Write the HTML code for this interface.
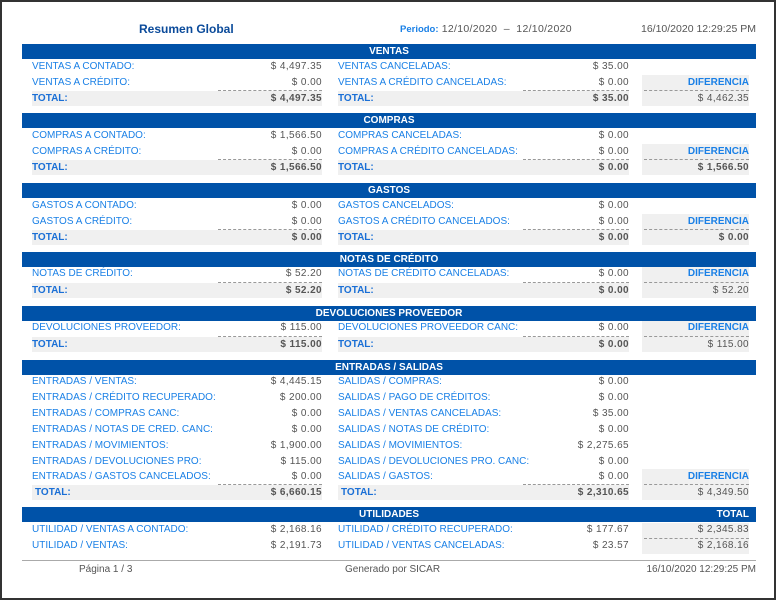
<!DOCTYPE html>
<html><head><meta charset="utf-8"><style>
body{margin:0;width:776px;height:600px;position:relative;background:#fff;font-family:"Liberation Sans",sans-serif;overflow:hidden}
.frame{position:absolute;left:0;top:0;width:772px;height:596px;border:2px solid #333}
div.a{position:absolute;font-size:10px;line-height:14px;height:14px;white-space:nowrap}
.bar{position:absolute;left:22px;width:734px;height:15px;background:#0052a8;color:#fff;font-size:10px;font-weight:bold;line-height:15px;text-align:center}
.l{left:32px;color:#1a80e6}
.r{left:338px;color:#1a80e6}
.lv{right:454px;color:#555;text-align:right;letter-spacing:0.4px}
.rv{right:147px;color:#555;text-align:right;letter-spacing:0.4px}
.dv{right:27px;color:#555;text-align:right;letter-spacing:0.4px}
.b{font-weight:bold}
.lb{color:#1a6fd6}
.g{position:absolute;background:#f0f0f0}
.d{position:absolute;border-top:1px dashed #999;height:0}
</style></head><body>
<div class="frame"></div>
<div class="a" style="left:139px;top:22px;font-size:12px;font-weight:bold;color:#0a4a9a">Resumen Global</div>
<div class="a" style="left:400px;top:22px;color:#555;font-size:10.5px;letter-spacing:0.3px"><span style="color:#1a80e6;font-weight:bold;font-size:9.5px;letter-spacing:0">Periodo:</span> 12/10/2020 &nbsp;–&nbsp; 12/10/2020</div>
<div class="a" style="right:20px;top:22px;color:#555;font-size:10.5px">16/10/2020 12:29:25 PM</div>

<!-- VENTAS -->
<div class="bar" style="top:44px">VENTAS</div>
<div class="g" style="left:32px;top:91px;width:290px;height:15px"></div>
<div class="g" style="left:338px;top:91px;width:291px;height:15px"></div>
<div class="g" style="left:642px;top:75px;width:107px;height:31px"></div>
<div class="d" style="left:218px;top:90px;width:104px"></div>
<div class="d" style="left:523px;top:90px;width:106px"></div>
<div class="d" style="left:644px;top:90px;width:105px"></div>
<div class="a l" style="top:60px">VENTAS A CONTADO:</div><div class="a lv" style="top:60px">$ 4,497.35</div>
<div class="a r" style="top:60px">VENTAS CANCELADAS:</div><div class="a rv" style="top:60px">$ 35.00</div>
<div class="a l" style="top:76px">VENTAS A CRÉDITO:</div><div class="a lv" style="top:76px">$ 0.00</div>
<div class="a r" style="top:76px">VENTAS A CRÉDITO CANCELADAS:</div><div class="a rv" style="top:76px">$ 0.00</div>
<div class="a dv b lb" style="top:76px;color:#1a80e6;letter-spacing:0">DIFERENCIA</div>
<div class="a l b lb" style="top:92px">TOTAL:</div><div class="a lv b" style="top:92px">$ 4,497.35</div>
<div class="a r b lb" style="top:92px">TOTAL:</div><div class="a rv b" style="top:92px">$ 35.00</div>
<div class="a dv" style="top:92px">$ 4,462.35</div>

<!-- COMPRAS -->
<div class="bar" style="top:113px">COMPRAS</div>
<div class="g" style="left:32px;top:160px;width:290px;height:15px"></div>
<div class="g" style="left:338px;top:160px;width:291px;height:15px"></div>
<div class="g" style="left:642px;top:144px;width:107px;height:31px"></div>
<div class="d" style="left:218px;top:159px;width:104px"></div>
<div class="d" style="left:523px;top:159px;width:106px"></div>
<div class="d" style="left:644px;top:159px;width:105px"></div>
<div class="a l" style="top:129px">COMPRAS A CONTADO:</div><div class="a lv" style="top:129px">$ 1,566.50</div>
<div class="a r" style="top:129px">COMPRAS CANCELADAS:</div><div class="a rv" style="top:129px">$ 0.00</div>
<div class="a l" style="top:145px">COMPRAS A CRÉDITO:</div><div class="a lv" style="top:145px">$ 0.00</div>
<div class="a r" style="top:145px">COMPRAS A CRÉDITO CANCELADAS:</div><div class="a rv" style="top:145px">$ 0.00</div>
<div class="a dv b lb" style="top:145px;color:#1a80e6;letter-spacing:0">DIFERENCIA</div>
<div class="a l b lb" style="top:161px">TOTAL:</div><div class="a lv b" style="top:161px">$ 1,566.50</div>
<div class="a r b lb" style="top:161px">TOTAL:</div><div class="a rv b" style="top:161px">$ 0.00</div>
<div class="a dv b" style="top:161px">$ 1,566.50</div>

<!-- GASTOS -->
<div class="bar" style="top:183px">GASTOS</div>
<div class="g" style="left:32px;top:230px;width:290px;height:15px"></div>
<div class="g" style="left:338px;top:230px;width:291px;height:15px"></div>
<div class="g" style="left:642px;top:214px;width:107px;height:31px"></div>
<div class="d" style="left:218px;top:229px;width:104px"></div>
<div class="d" style="left:523px;top:229px;width:106px"></div>
<div class="d" style="left:644px;top:229px;width:105px"></div>
<div class="a l" style="top:199px">GASTOS A CONTADO:</div><div class="a lv" style="top:199px">$ 0.00</div>
<div class="a r" style="top:199px">GASTOS CANCELADOS:</div><div class="a rv" style="top:199px">$ 0.00</div>
<div class="a l" style="top:215px">GASTOS A CRÉDITO:</div><div class="a lv" style="top:215px">$ 0.00</div>
<div class="a r" style="top:215px">GASTOS A CRÉDITO CANCELADOS:</div><div class="a rv" style="top:215px">$ 0.00</div>
<div class="a dv b lb" style="top:215px;color:#1a80e6;letter-spacing:0">DIFERENCIA</div>
<div class="a l b lb" style="top:231px">TOTAL:</div><div class="a lv b" style="top:231px">$ 0.00</div>
<div class="a r b lb" style="top:231px">TOTAL:</div><div class="a rv b" style="top:231px">$ 0.00</div>
<div class="a dv b" style="top:231px">$ 0.00</div>

<!-- NOTAS -->
<div class="bar" style="top:252px">NOTAS DE CRÉDITO</div>
<div class="g" style="left:32px;top:283px;width:290px;height:15px"></div>
<div class="g" style="left:338px;top:283px;width:291px;height:15px"></div>
<div class="g" style="left:642px;top:267px;width:107px;height:31px"></div>
<div class="d" style="left:218px;top:282px;width:104px"></div>
<div class="d" style="left:523px;top:282px;width:106px"></div>
<div class="d" style="left:644px;top:282px;width:105px"></div>
<div class="a l" style="top:267px">NOTAS DE CRÉDITO:</div><div class="a lv" style="top:267px">$ 52.20</div>
<div class="a r" style="top:267px">NOTAS DE CRÉDITO CANCELADAS:</div><div class="a rv" style="top:267px">$ 0.00</div>
<div class="a dv b lb" style="top:267px;color:#1a80e6;letter-spacing:0">DIFERENCIA</div>
<div class="a l b lb" style="top:284px">TOTAL:</div><div class="a lv b" style="top:284px">$ 52.20</div>
<div class="a r b lb" style="top:284px">TOTAL:</div><div class="a rv b" style="top:284px">$ 0.00</div>
<div class="a dv" style="top:284px">$ 52.20</div>

<!-- DEVOLUCIONES -->
<div class="bar" style="top:306px">DEVOLUCIONES PROVEEDOR</div>
<div class="g" style="left:32px;top:337px;width:290px;height:15px"></div>
<div class="g" style="left:338px;top:337px;width:291px;height:15px"></div>
<div class="g" style="left:642px;top:321px;width:107px;height:31px"></div>
<div class="d" style="left:218px;top:336px;width:104px"></div>
<div class="d" style="left:523px;top:336px;width:106px"></div>
<div class="d" style="left:644px;top:336px;width:105px"></div>
<div class="a l" style="top:321px">DEVOLUCIONES PROVEEDOR:</div><div class="a lv" style="top:321px">$ 115.00</div>
<div class="a r" style="top:321px">DEVOLUCIONES PROVEEDOR CANC:</div><div class="a rv" style="top:321px">$ 0.00</div>
<div class="a dv b lb" style="top:321px;color:#1a80e6;letter-spacing:0">DIFERENCIA</div>
<div class="a l b lb" style="top:338px">TOTAL:</div><div class="a lv b" style="top:338px">$ 115.00</div>
<div class="a r b lb" style="top:338px">TOTAL:</div><div class="a rv b" style="top:338px">$ 0.00</div>
<div class="a dv" style="top:338px">$ 115.00</div>

<!-- ENTRADAS -->
<div class="bar" style="top:360px">ENTRADAS / SALIDAS</div>
<div class="g" style="left:32px;top:485px;width:290px;height:15px"></div>
<div class="g" style="left:338px;top:485px;width:291px;height:15px"></div>
<div class="g" style="left:642px;top:469px;width:107px;height:31px"></div>
<div class="d" style="left:218px;top:484px;width:104px"></div>
<div class="d" style="left:523px;top:484px;width:106px"></div>
<div class="d" style="left:644px;top:484px;width:105px"></div>
<div class="a l" style="top:375px">ENTRADAS / VENTAS:</div><div class="a lv" style="top:375px">$ 4,445.15</div>
<div class="a r" style="top:375px">SALIDAS / COMPRAS:</div><div class="a rv" style="top:375px">$ 0.00</div>
<div class="a l" style="top:391px">ENTRADAS / CRÉDITO RECUPERADO:</div><div class="a lv" style="top:391px">$ 200.00</div>
<div class="a r" style="top:391px">SALIDAS / PAGO DE CRÉDITOS:</div><div class="a rv" style="top:391px">$ 0.00</div>
<div class="a l" style="top:407px">ENTRADAS / COMPRAS CANC:</div><div class="a lv" style="top:407px">$ 0.00</div>
<div class="a r" style="top:407px">SALIDAS / VENTAS CANCELADAS:</div><div class="a rv" style="top:407px">$ 35.00</div>
<div class="a l" style="top:423px">ENTRADAS / NOTAS DE CRED. CANC:</div><div class="a lv" style="top:423px">$ 0.00</div>
<div class="a r" style="top:423px">SALIDAS / NOTAS DE CRÉDITO:</div><div class="a rv" style="top:423px">$ 0.00</div>
<div class="a l" style="top:439px">ENTRADAS / MOVIMIENTOS:</div><div class="a lv" style="top:439px">$ 1,900.00</div>
<div class="a r" style="top:439px">SALIDAS / MOVIMIENTOS:</div><div class="a rv" style="top:439px">$ 2,275.65</div>
<div class="a l" style="top:455px">ENTRADAS / DEVOLUCIONES PRO:</div><div class="a lv" style="top:455px">$ 115.00</div>
<div class="a r" style="top:455px">SALIDAS / DEVOLUCIONES PRO. CANC:</div><div class="a rv" style="top:455px">$ 0.00</div>
<div class="a l" style="top:470px">ENTRADAS / GASTOS CANCELADOS:</div><div class="a lv" style="top:470px">$ 0.00</div>
<div class="a r" style="top:470px">SALIDAS / GASTOS:</div><div class="a rv" style="top:470px">$ 0.00</div>
<div class="a dv b lb" style="top:470px;color:#1a80e6;letter-spacing:0">DIFERENCIA</div>
<div class="a l b lb" style="top:486px;left:35px">TOTAL:</div><div class="a lv b" style="top:486px">$ 6,660.15</div>
<div class="a r b lb" style="top:486px;left:341px">TOTAL:</div><div class="a rv b" style="top:486px">$ 2,310.65</div>
<div class="a dv" style="top:486px">$ 4,349.50</div>

<!-- UTILIDADES -->
<div class="bar" style="top:507px">UTILIDADES</div>
<div class="a" style="right:27px;top:507px;color:#fff;font-weight:bold;line-height:15px">TOTAL</div>
<div class="g" style="left:642px;top:523px;width:107px;height:31px"></div>
<div class="d" style="left:644px;top:538px;width:105px"></div>
<div class="a l" style="top:523px">UTILIDAD / VENTAS A CONTADO:</div><div class="a lv" style="top:523px">$ 2,168.16</div>
<div class="a r" style="top:523px">UTILIDAD / CRÉDITO RECUPERADO:</div><div class="a rv" style="top:523px">$ 177.67</div>
<div class="a dv" style="top:523px">$ 2,345.83</div>
<div class="a l" style="top:539px">UTILIDAD / VENTAS:</div><div class="a lv" style="top:539px">$ 2,191.73</div>
<div class="a r" style="top:539px">UTILIDAD / VENTAS CANCELADAS:</div><div class="a rv" style="top:539px">$ 23.57</div>
<div class="a dv" style="top:539px">$ 2,168.16</div>

<!-- footer -->
<div style="position:absolute;left:22px;top:560px;width:734px;border-top:1px solid #aaa"></div>
<div class="a" style="left:79px;top:563px;color:#555">Página 1 / 3</div>
<div class="a" style="left:345px;top:563px;color:#555">Generado por SICAR</div>
<div class="a" style="right:20px;top:563px;color:#555">16/10/2020 12:29:25 PM</div>
</body></html>
